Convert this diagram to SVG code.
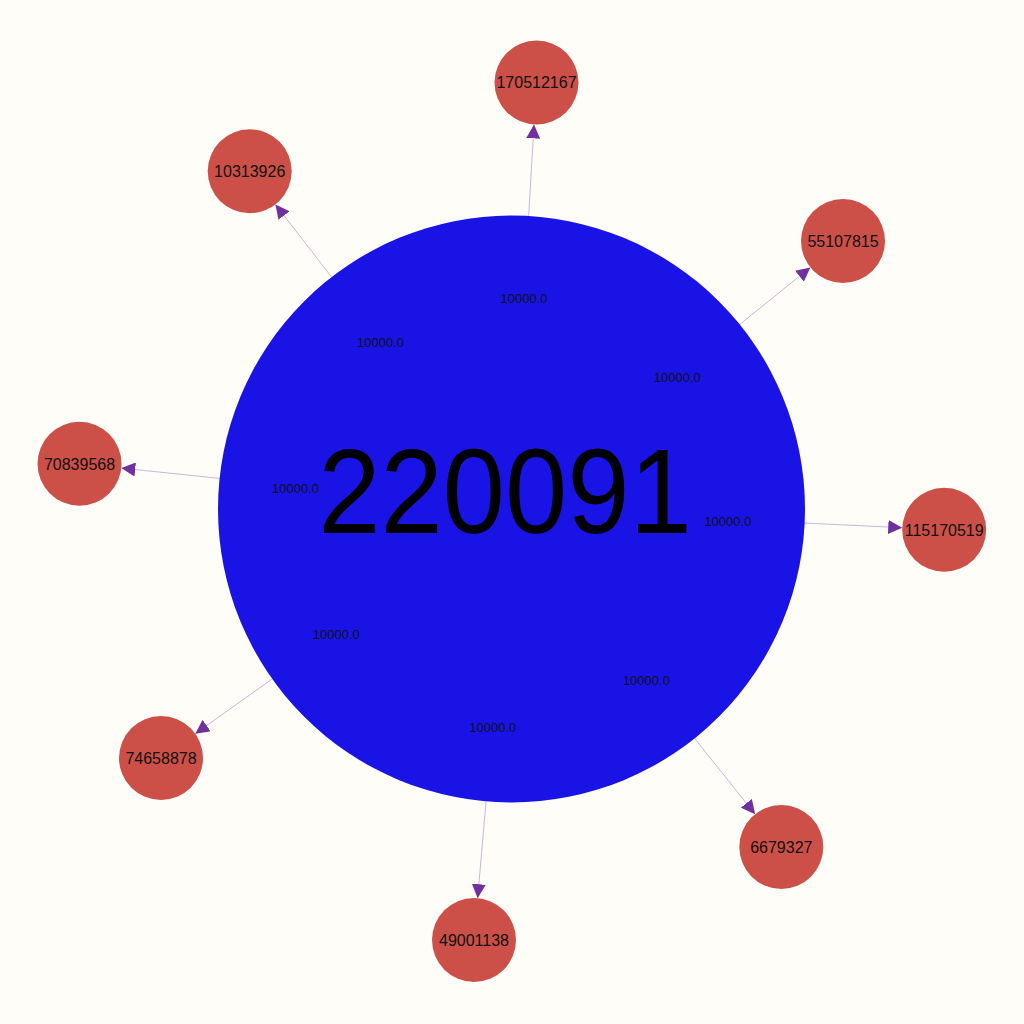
<svg xmlns="http://www.w3.org/2000/svg" width="1024" height="1024" viewBox="0 0 1024 1024">
<style>
.edge{stroke:#c9b5dd;stroke-width:1;fill:none;marker-end:url(#arr)}
.small{fill:#cc5048}
.big{fill:#1a13e6}
.nl{font-family:"Liberation Sans",Arial,sans-serif;font-size:16px;fill:#111;text-anchor:middle}
.el{font-family:"Liberation Sans",Arial,sans-serif;font-size:13px;fill:#111;text-anchor:middle}
.bl{font-family:"Liberation Sans",Arial,sans-serif;font-size:121px;fill:#000;text-anchor:middle}
</style>
<defs>
<marker id="arr" markerUnits="userSpaceOnUse" markerWidth="14" markerHeight="14" refX="14" refY="7" orient="auto">
<path d="M0,0 L14,7 L0,14 z" fill="#7030a0"/>
</marker>
</defs>
<rect width="1024" height="1024" fill="#fffdf8"/>
<g id="connectors">
<line class="edge" x1="511.5" y1="509" x2="534.04" y2="124.43"/>
<line class="edge" x1="511.5" y1="509" x2="275.43" y2="204.49"/>
<line class="edge" x1="511.5" y1="509" x2="810.34" y2="267.4"/>
<line class="edge" x1="511.5" y1="509" x2="121.27" y2="468.08"/>
<line class="edge" x1="511.5" y1="509" x2="902.25" y2="527.7"/>
<line class="edge" x1="511.5" y1="509" x2="195.24" y2="733.67"/>
<line class="edge" x1="511.5" y1="509" x2="755.1" y2="814.18"/>
<line class="edge" x1="511.5" y1="509" x2="477.64" y2="898.15"/>
</g>
<g id="n220091"><circle class="big" cx="511.5" cy="509" r="293.5"/><text class="bl" transform="translate(505,533) scale(0.925,1)" x="0" y="0">220091</text></g>
<g id="n170512167"><circle class="small" cx="536.5" cy="82.5" r="42"/><text class="nl" x="536.5" y="88">170512167</text></g>
<g id="n10313926"><circle class="small" cx="249.7" cy="171.3" r="42"/><text class="nl" x="249.7" y="177">10313926</text></g>
<g id="n55107815"><circle class="small" cx="843" cy="241" r="42"/><text class="nl" x="843" y="247">55107815</text></g>
<g id="n70839568"><circle class="small" cx="79.5" cy="463.7" r="42"/><text class="nl" x="79.5" y="469.5">70839568</text></g>
<g id="n115170519"><circle class="small" cx="944.2" cy="529.7" r="42"/><text class="nl" x="944.2" y="535.5">115170519</text></g>
<g id="n74658878"><circle class="small" cx="161" cy="758" r="42"/><text class="nl" x="161" y="764">74658878</text></g>
<g id="n6679327"><circle class="small" cx="781.3" cy="847" r="42"/><text class="nl" x="781.3" y="853">6679327</text></g>
<g id="n49001138"><circle class="small" cx="474" cy="940" r="42"/><text class="nl" x="474" y="946">49001138</text></g>
<g id="edge-labels">
<text class="el" x="524" y="302.5">10000.0</text>
<text class="el" x="380.6" y="347">10000.0</text>
<text class="el" x="677.3" y="381.5">10000.0</text>
<text class="el" x="295.5" y="493">10000.0</text>
<text class="el" x="727.9" y="525.5">10000.0</text>
<text class="el" x="336.3" y="639">10000.0</text>
<text class="el" x="646.4" y="684.5">10000.0</text>
<text class="el" x="492.8" y="731.5">10000.0</text>
</g>
</svg>
